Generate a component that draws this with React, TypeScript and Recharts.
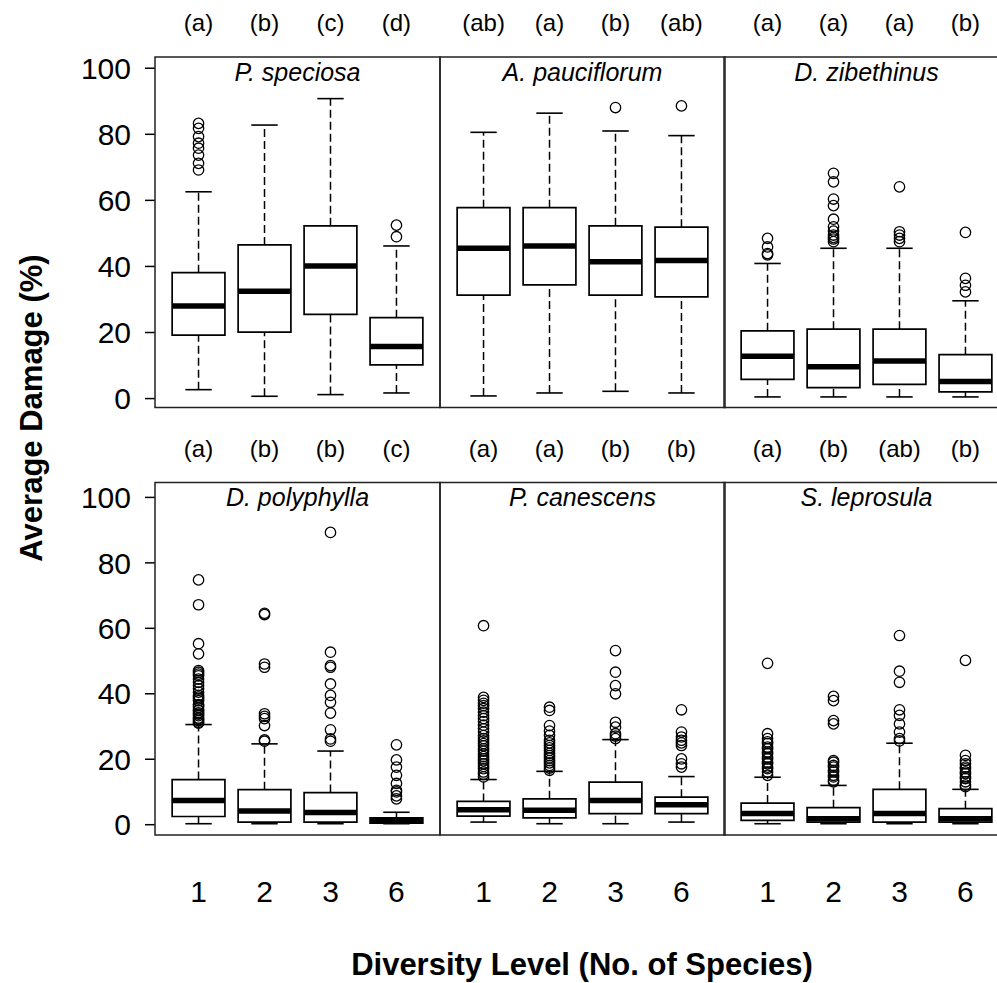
import { ComposedChart, XAxis, YAxis, Scatter, ReferenceArea, ReferenceLine } from 'recharts'

// diversity levels (x tick labels)
const levels = ['1', '2', '3', '6']
const species = ['P. speciosa', 'A. pauciflorum', 'D. zibethinus', 'D. polyphylla', 'P. canescens', 'S. leprosula']

const letters = [
  ['(a)', '(b)', '(c)', '(d)'],
  ['(ab)', '(a)', '(b)', '(ab)'],
  ['(a)', '(a)', '(a)', '(b)'],
  ['(a)', '(b)', '(b)', '(c)'],
  ['(a)', '(a)', '(b)', '(b)'],
  ['(a)', '(b)', '(ab)', '(b)'],
]

// [lower whisker, q1, median, q3, upper whisker] per level
const speciosaStats = [[2.7, 19.2, 28.0, 38.1, 62.6], [0.7, 20.1, 32.5, 46.5, 82.8], [1.2, 25.5, 40.1, 52.3, 90.8], [1.7, 10.2, 15.8, 24.5, 46.2]]
const pauciflorumStats = [[0.8, 31.3, 45.5, 57.8, 80.6], [1.7, 34.4, 46.2, 57.8, 86.4], [2.2, 31.3, 41.4, 52.3, 81.0], [1.7, 30.8, 41.8, 51.9, 79.6]]
const zibethinusStats = [[0.5, 5.8, 12.8, 20.5, 40.9], [0.5, 3.3, 9.6, 21.0, 45.5], [0.5, 4.3, 11.4, 21.0, 45.5], [0.5, 2.0, 5.2, 13.3, 29.6]]
const polyphyllaStats = [[0.3, 2.5, 7.4, 13.8, 30.6], [0.3, 0.8, 4.2, 10.7, 24.7], [0.3, 0.8, 3.7, 9.8, 22.5], [0.3, 0.5, 1.3, 2.1, 3.8]]
const canescensStats = [[0.8, 2.6, 4.6, 7.1, 13.8], [0.3, 2.1, 4.4, 7.9, 16.3], [0.3, 3.4, 7.4, 13.0, 26.0], [0.8, 3.4, 6.1, 8.4, 14.7]]
const leprosulaStats = [[0.3, 1.3, 3.4, 6.6, 14.5], [0.3, 0.8, 1.8, 5.2, 12.0], [0.3, 0.8, 3.4, 10.8, 24.9], [0.3, 0.8, 1.8, 4.9, 10.8]]

// outliers per level
const speciosaOut = [[69.2, 71.2, 73.7, 75.8, 77.3, 79.3, 81.8, 83.3], [], [], [49.0, 52.5]]
const pauciflorumOut = [[], [], [88.1], [88.6]]
const zibethinusOut = [
  [43.5, 43.9, 45.9, 48.5],
  [47.5, 48.3, 48.8, 49.5, 50.7, 52.0, 54.3, 58.4, 60.4, 65.6, 68.2],
  [47.5, 48.5, 49.5, 50.5, 64.1],
  [32.3, 34.3, 36.4, 50.3],
]
const polyphyllaOut = [
  [31.0, 31.3, 31.8, 32.3, 32.6, 33.3, 33.8, 34.2, 34.9, 35.0, 35.8, 36.4, 36.7, 37.9, 38.5, 39.0, 39.5, 40.5, 41.5, 42.5, 43.5, 44.5, 45.5, 46.0, 46.6, 47.1, 52.2, 55.3, 67.2, 74.8],
  [25.5, 25.9, 30.3, 32.4, 33.1, 33.9, 48.1, 49.1, 64.2, 64.6],
  [25.5, 26.2, 29.0, 34.1, 37.4, 39.5, 43.0, 48.1, 48.6, 52.7, 89.3],
  [7.9, 8.8, 10.0, 10.5, 12.6, 15.1, 17.6, 19.8, 24.4],
]
const canescensOut = [
  [14.6, 15.4, 16.1, 17.1, 17.8, 18.6, 19.5, 20.1, 20.8, 21.6, 22.5, 23.2, 24.1, 24.8, 25.6, 26.3, 27.2, 28.3, 29.3, 30.4, 31.5, 32.4, 33.3, 34.4, 35.5, 36.4, 37.1, 38.0, 38.9, 60.8],
  [16.6, 17.3, 18.1, 18.9, 19.6, 20.4, 21.1, 21.8, 22.7, 23.5, 24.2, 25.0, 25.8, 27.3, 28.6, 30.3, 34.9, 35.9],
  [26.3, 27.1, 27.8, 29.8, 31.3, 40.0, 42.5, 46.6, 53.2],
  [17.6, 18.6, 20.1, 24.2, 25.0, 25.8, 26.8, 28.3, 35.1],
]
const leprosulaOut = [
  [15.1, 16.1, 17.1, 17.6, 18.6, 19.1, 20.1, 20.6, 21.7, 22.2, 23.2, 23.7, 24.8, 25.3, 26.3, 27.8, 49.3],
  [13.1, 13.6, 14.6, 15.1, 16.1, 16.6, 17.6, 18.1, 19.1, 19.6, 30.8, 31.8, 37.9, 39.2],
  [25.6, 26.3, 28.3, 30.8, 33.4, 35.1, 43.5, 46.9, 57.8],
  [11.6, 12.1, 13.1, 14.1, 14.6, 15.6, 16.1, 17.1, 17.6, 18.6, 19.6, 21.2, 50.2],
]

const yTicks = [0, 20, 40, 60, 80, 100]

const allStats = [speciosaStats, pauciflorumStats, zibethinusStats, polyphyllaStats, canescensStats, leprosulaStats]
const allOut = [speciosaOut, pauciflorumOut, zibethinusOut, polyphyllaOut, canescensOut, leprosulaOut]

const FONT = "'Liberation Sans', Arial, Helvetica, sans-serif"
const PLOT_LEFT = [155, 440, 724]
const PLOT_W = 285
const Y_AXIS_W = 95
const TOP_H = 57
const ROW_TOP = [57, 482.5]
const ROW_H = [350.5, 352.5]
const ROW_DOMAIN: [number, number][] = [[-2.7, 103.4], [-3.3, 104.4]]
const BOTTOM_H = 80
const X_DOMAIN: [number, number] = [0.34, 4.66]

const Ring = (p: any) => (
  <circle cx={p.cx} cy={p.cy} r={5.2} fill="none" stroke="#000" strokeWidth={1.3} />
)
const Nothing = () => <g />

function Panel({ idx }: { idx: number }) {
  const row = Math.floor(idx / 3)
  const col = idx % 3
  const stats = allStats[idx]
  const pts = allOut[idx].flatMap((vals, i) => vals.map(v => ({ x: i + 1, y: v })))
  const meds = stats.map((s, i) => ({ x: i + 1, y: s[2] }))
  const yw = col === 0 ? Y_AXIS_W : 0
  const left = PLOT_LEFT[col] - yw
  const top = ROW_TOP[row] - TOP_H
  const width = PLOT_W + yw
  const bottomPad = row === 0 ? 14 : 0
  const height = TOP_H + ROW_H[row] + (row === 1 ? BOTTOM_H : bottomPad)

  return (
    <div style={{ position: 'absolute', left, top }}>
      <ComposedChart width={width} height={height} margin={{ top: 0, right: 0, bottom: bottomPad, left: 0 }}>
        <XAxis xAxisId="b" type="number" dataKey="x" domain={X_DOMAIN} allowDataOverflow ticks={[1, 2, 3, 4]}
          tickFormatter={(v: number) => levels[v - 1]} interval={0} hide={row === 0} height={BOTTOM_H}
          axisLine={false} tickLine={false} tickSize={0} tickMargin={45}
          tick={{ fontSize: 30, fill: '#000', fontFamily: FONT }} />
        <XAxis xAxisId="t" orientation="top" type="number" dataKey="x" domain={X_DOMAIN} allowDataOverflow ticks={[1, 2, 3, 4]}
          tickFormatter={(v: number) => letters[idx][v - 1]} interval={0} height={TOP_H}
          axisLine={false} tickLine={false} tickSize={0} tickMargin={26}
          tick={{ fontSize: 24, fill: '#000', fontFamily: FONT }} />
        <YAxis type="number" dataKey="y" domain={ROW_DOMAIN[row]} allowDataOverflow ticks={yTicks} interval={0}
          hide={col !== 0} width={Y_AXIS_W} axisLine={false} tickSize={10} tickMargin={14}
          tickLine={{ stroke: '#000', strokeWidth: 1.5 }}
          tick={{ fontSize: 30, fill: '#000', fontFamily: FONT }} />
        {stats.map(([lo, q1, med, q3, hi], i) => {
          const x = i + 1
          return [
            <ReferenceLine key={`wl${i}`} xAxisId="b" segment={[{ x, y: lo }, { x, y: q1 }]} stroke="#000" strokeWidth={1.5} strokeDasharray="8 4" />,
            <ReferenceLine key={`wh${i}`} xAxisId="b" segment={[{ x, y: q3 }, { x, y: hi }]} stroke="#000" strokeWidth={1.5} strokeDasharray="8 4" />,
            <ReferenceLine key={`cl${i}`} xAxisId="b" segment={[{ x: x - 0.2, y: lo }, { x: x + 0.2, y: lo }]} stroke="#000" strokeWidth={1.6} />,
            <ReferenceLine key={`ch${i}`} xAxisId="b" segment={[{ x: x - 0.2, y: hi }, { x: x + 0.2, y: hi }]} stroke="#000" strokeWidth={1.6} />,
            <ReferenceArea key={`bx${i}`} xAxisId="b" x1={x - 0.4} x2={x + 0.4} y1={q1} y2={q3} fill="none" fillOpacity={0} stroke="#000" strokeWidth={1.7} />,
            <ReferenceLine key={`md${i}`} xAxisId="b" segment={[{ x: x - 0.4, y: med }, { x: x + 0.4, y: med }]} stroke="#000" strokeWidth={5.5} />,
          ]
        })}
        <Scatter xAxisId="b" data={pts} shape={Ring} isAnimationActive={false} />
        <Scatter xAxisId="t" data={meds} shape={Nothing} isAnimationActive={false} />
      </ComposedChart>
    </div>
  )
}

export default function App() {
  return (
    <div style={{ position: 'absolute', left: 0, top: 0, width: 997, height: 983, overflow: 'hidden', background: '#fff', fontFamily: FONT }}>
      {species.map((_, i) => <Panel key={i} idx={i} />)}
      <svg width={997} height={983} style={{ position: 'absolute', left: 0, top: 0, pointerEvents: 'none' }}>
        {species.map((name, i) => {
          const row = Math.floor(i / 3)
          const col = i % 3
          return (
            <g key={i}>
              <rect x={PLOT_LEFT[col]} y={ROW_TOP[row]} width={PLOT_W} height={ROW_H[row]} fill="none" stroke="#222" strokeWidth={1.5} />
              <text x={PLOT_LEFT[col] + PLOT_W / 2} y={ROW_TOP[row] + 23.5} textAnchor="middle" fontStyle="italic" fontSize={25} fontFamily={FONT} fill="#000">{name}</text>
            </g>
          )
        })}
        <text transform="translate(42,408) rotate(-90)" textAnchor="middle" fontWeight="bold" fontSize={31} fontFamily={FONT} fill="#000">Average Damage (%)</text>
        <text x={582} y={975} textAnchor="middle" fontWeight="bold" fontSize={31} fontFamily={FONT} fill="#000">Diversity Level (No. of Species)</text>
      </svg>
    </div>
  )
}
